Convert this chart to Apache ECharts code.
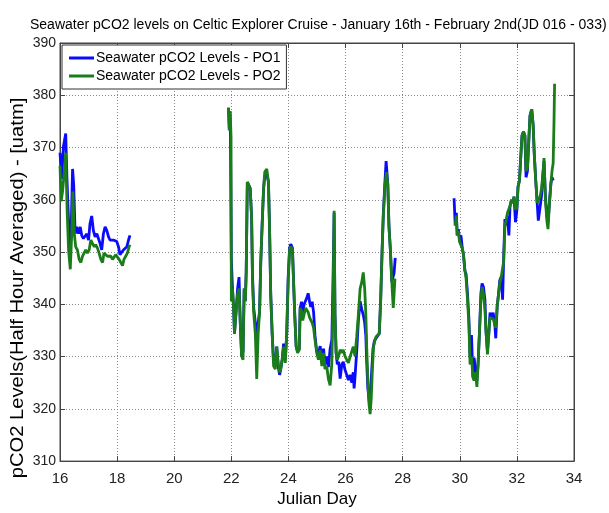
<!DOCTYPE html>
<html>
<head>
<meta charset="utf-8">
<script src="https://cdn.jsdelivr.net/npm/echarts@6/dist/echarts.min.js"></script>
<style>
html,body{margin:0;padding:0;background:#fff;}
#c{width:609px;height:513px;}
</style>
</head>
<body>
<div id="c"></div>
<script>
// ---- Data ----
var titleText = 'Seawater pCO2 levels on Celtic Explorer Cruise - January 16th - February 2nd(JD 016 - 033)';
var yAxisTitle = 'pCO2 Levels(Half Hour Averaged) - [uatm]';
var xAxisTitle = 'Julian Day';
var seriesNames = ['Seawater pCO2 Levels - PO1', 'Seawater pCO2 Levels - PO2'];
var xTicks = [16, 18, 20, 22, 24, 26, 28, 30, 32, 34];
var yTicks = [310, 320, 330, 340, 350, 360, 370, 380, 390];

var daysPO1 = [
16.00,16.06,16.12,16.20,16.24,16.30,16.36,16.39,16.44,16.48,16.53,16.59,16.65,16.71,16.76,16.82,16.88,16.94,17.00,17.05,17.11,17.17,17.23,17.29,17.35,17.40,17.46,17.52,17.58,17.64,17.70,17.75,17.81,17.87,17.93,17.99,18.05,18.10,18.16,18.22,18.28,18.34,18.40,18.45,
20.0,
21.90,21.93,21.95,21.97,22.00,22.04,22.08,22.11,22.16,22.22,22.27,22.31,22.36,22.41,22.45,22.49,22.52,22.56,22.61,22.66,22.71,22.74,22.78,22.84,22.89,22.94,22.99,23.03,23.08,23.13,23.17,23.24,23.30,23.34,23.38,23.43,23.48,23.54,23.59,23.64,23.69,23.73,23.78,23.83,23.89,23.94,23.99,24.04,24.08,24.14,24.18,24.22,24.27,24.32,24.38,24.41,24.46,24.50,24.55,24.60,24.64,24.69,24.74,24.78,24.83,24.88,24.93,24.99,25.05,25.11,25.17,25.23,25.28,25.34,25.40,25.46,25.52,25.56,25.60,25.63,25.67,25.71,25.76,25.81,25.87,25.92,25.98,26.04,26.10,26.16,26.22,26.27,26.30,26.33,26.39,26.45,26.51,26.57,26.62,26.67,26.71,26.74,26.78,26.83,26.87,26.92,26.96,27.01,27.07,27.13,27.18,27.23,27.28,27.32,27.38,27.42,27.48,27.52,27.57,27.62,27.67,27.70,27.74,
29.0,
29.80,29.84,29.88,29.91,29.95,29.99,30.04,30.09,30.13,30.18,30.22,30.27,30.32,30.36,30.41,30.46,30.50,30.55,30.60,30.64,30.69,30.74,30.78,30.83,30.88,30.92,30.97,31.02,31.06,31.11,31.17,31.23,31.26,31.31,31.36,31.40,31.45,31.50,31.54,31.58,31.62,31.67,31.72,31.76,31.81,31.86,31.90,31.95,32.00,32.04,32.09,32.14,32.18,32.23,32.28,32.32,32.37,32.42,32.46,32.52,32.57,32.61,32.66,32.71,32.75,32.81,32.86,32.92,32.95,33.00,33.05,33.09,33.14,33.19,33.23,33.27
];
var valsPO1 = [
369,364,370.2,372.7,364.6,356,350.4,354,365.9,362.8,353.5,354.8,353.5,354.8,353.2,352.6,352.3,353.5,352.3,355.4,356.9,354.1,352.9,353.5,353.2,351.7,350.4,353.5,354.8,354.1,352.9,352.3,352.6,352.3,352,352,351,349.5,349.2,350.4,350.1,351,352.3,353.2,
null,
377.6,373.3,376.5,372,348.6,343,339.3,334.4,338.1,343,345.2,336.9,330.1,331,343,340.6,346.1,363.4,362.8,362.2,356.6,345.8,339.5,336.5,333,336.5,338.7,348,355.4,362.2,364.5,365,363.4,354.1,341.8,334.4,329,328.2,331.9,328.2,326.5,327.6,329.4,332.5,329.5,334.4,345,350.8,351.5,350.8,344.3,338.1,331.9,331,331.5,339.3,340.5,338.5,340,339.8,341.2,342.1,340.5,339.5,340.5,338.5,334,331,330.5,332,329.5,331.5,328.5,330,328,331.5,333.2,344.3,357.5,338.1,330.7,328.5,329,325.8,328.5,329,327.5,326.5,325.5,326.5,325,327,323.9,326,331,337,340.6,339,338,336.5,334,329,324,321.4,323,327.6,331.5,333,333.5,333.5,334.4,341,350.4,357,363.5,367.4,363,355,350.4,344.3,344.3,346,348.9,
null,
360.3,355.1,357.5,353.2,354.4,352.6,353.2,350.7,349.5,346.4,345.8,342.1,337.2,329.8,334.1,326.1,329.8,329.8,325.4,328.5,334.7,342.1,344,343.3,340.9,334.7,331,334.7,338.4,337.2,338.4,335.9,333.5,339.6,342.1,344.6,345.2,340.9,349.5,356.3,355.1,356.9,353.2,358.8,360,359.4,360.6,355.7,358.1,362.5,363.7,368.6,372.3,373,372.3,364.3,365.5,371.7,376.1,377.3,374.2,368.6,363.7,359.4,356,356,360.6,365.5,367.4,360.6,356.9,355.7,359.4,363.1,364.3,363.7
];

var daysPO2 = [
16.00,16.04,16.09,16.16,16.20,16.25,16.30,16.36,16.41,16.45,16.50,16.55,16.61,16.67,16.73,16.79,16.85,16.90,16.96,17.02,17.08,17.14,17.20,17.25,17.31,17.37,17.43,17.49,17.54,17.60,17.66,17.72,17.78,17.84,17.90,17.95,18.01,18.07,18.13,18.19,18.24,18.30,18.36,18.42,18.45,
20.0,
21.90,21.93,21.96,21.99,22.00,22.04,22.08,22.11,22.16,22.22,22.27,22.31,22.36,22.41,22.45,22.49,22.52,22.56,22.61,22.66,22.71,22.74,22.78,22.84,22.89,22.94,22.99,23.03,23.08,23.13,23.17,23.24,23.30,23.34,23.38,23.43,23.48,23.54,23.59,23.64,23.69,23.73,23.78,23.83,23.89,23.94,23.99,24.04,24.08,24.14,24.18,24.22,24.27,24.32,24.38,24.41,24.46,24.50,24.55,24.60,24.64,24.69,24.74,24.78,24.83,24.88,24.93,24.99,25.05,25.11,25.17,25.23,25.28,25.34,25.40,25.46,25.52,25.56,25.60,25.63,25.67,25.71,25.76,25.81,25.87,25.92,25.98,26.04,26.10,26.16,26.22,26.27,26.33,26.39,26.45,26.51,26.57,26.62,26.67,26.71,26.74,26.78,26.82,26.86,26.90,26.94,26.98,27.03,27.07,27.13,27.18,27.23,27.28,27.32,27.38,27.43,27.48,27.52,27.57,27.62,27.67,27.70,27.73,
29.0,
29.84,29.88,29.91,29.95,29.99,30.04,30.09,30.13,30.18,30.22,30.27,30.32,30.36,30.41,30.46,30.50,30.55,30.60,30.64,30.69,30.74,30.78,30.83,30.88,30.92,30.97,31.02,31.06,31.11,31.17,31.23,31.26,31.31,31.36,31.40,31.45,31.50,31.54,31.58,31.62,31.67,31.72,31.76,31.81,31.86,31.90,31.95,32.00,32.04,32.09,32.14,32.18,32.23,32.28,32.32,32.37,32.42,32.46,32.52,32.57,32.61,32.66,32.71,32.75,32.81,32.86,32.92,32.95,33.00,33.05,33.09,33.14,33.19,33.23,33.27,33.30,33.32
];
var valsPO2 = [
366.5,359.7,361.6,365.9,369,357.9,350.4,346.7,353.5,361.6,353.5,351,350.4,348.6,348,349.2,349.5,350.4,349.8,350.4,352.3,352.6,351,351.4,350.8,349.8,348.6,348,349.8,350.1,349.2,348.9,349.2,348.6,348.9,349.5,349.2,348.6,348,347.4,348.6,349.2,349.8,351,351.4,
null,
377.6,373.3,377,372,340.6,343,339.3,334.4,338.1,342,343,336.9,330.1,329.4,343,340.6,346.1,363.4,362.8,362.2,356.6,344.9,338.7,334.4,325.7,334.4,338.7,348,355.4,362.2,365.3,365.9,363.4,354.1,341.8,334.4,328.2,327.6,331.9,328.8,327,327.6,329.4,331.9,328.8,334.4,344.3,350.4,351.1,350.4,344.3,338.1,331.9,330.7,331.3,339.3,338.7,336.9,338.1,339.3,339,338.5,337.5,337,336.5,335.5,333.2,330.7,329.4,331.3,328.2,330.7,327.6,328.2,325.7,324.5,328.8,340,357.9,338.1,330.7,329.4,330.1,331.3,330.7,331.3,330.1,329.4,328.8,330,330.1,331.9,330.1,333.8,338.1,343,344.3,346.1,343,338.1,331.9,325.7,321,319,322,327.6,331.9,333.2,333.8,333.8,334.4,340.6,350.4,356.6,362.8,365.3,362.8,354.8,350.4,344.3,339.3,342,344.9,
null,
355.1,357,353.2,354,352,352,350.7,349.5,346.4,345,341,336,328.5,330,326,325.4,327,324.2,328.5,334.7,340.9,343.3,342,339,334.7,330.4,334.7,337.5,337.2,337.2,337,335.5,339.6,342.1,344,345.2,345,348.3,355,356,357.5,357.5,358.8,360,359.4,360.6,358.1,358.5,362.5,363.7,368.6,372.3,373,372.3,365.5,366,371.7,376.1,377.3,374.2,368.6,363.7,359.4,359.4,360.6,362,365.5,368,360,356,354.4,359.4,363.1,365.5,367,375,382.2
];

function pairs(days, vals) {
  return days.map(function (d, i) { return [d, vals[i] === null ? '-' : vals[i]]; });
}

var FONT = 'Liberation Sans, Arial, sans-serif';
var chart = echarts.init(document.getElementById('c'), null, { renderer: 'canvas' });

var gridLine = { show: true, lineStyle: { color: '#8a8a8a', type: [1, 2], width: 1 } };

chart.setOption({
  animation: false,
  backgroundColor: '#ffffff',
  title: {
    text: titleText,
    left: 25,
    top: 13,
    textStyle: { fontFamily: FONT, fontSize: 14, fontWeight: 'normal', color: '#000' }
  },
  graphic: [{
    type: 'text',
    x: 18, y: 288,
    rotation: Math.PI / 2,
    scaleX: 1.12,
    style: {
      text: yAxisTitle,
      fontFamily: FONT, fontSize: 18, fill: '#000',
      align: 'center', verticalAlign: 'middle'
    }
  }],
  legend: {
    left: 62,
    top: 45,
    orient: 'vertical',
    backgroundColor: '#fff',
    borderColor: '#333',
    borderWidth: 1,
    borderRadius: 0,
    padding: [6, 6, 6, 7],
    itemGap: 4,
    itemWidth: 25,
    itemHeight: 3,
    icon: 'rect',
    textStyle: { fontFamily: FONT, fontSize: 14, color: '#000', padding: [0, 0, 0, -3] },
    data: seriesNames
  },
  grid: {
    left: 60, right: 35, top: 43, bottom: 38,
    show: true, borderColor: '#444', borderWidth: 1, backgroundColor: '#fff'
  },
  xAxis: [{
    type: 'value',
    min: xTicks[0], max: xTicks[xTicks.length - 1], interval: 2,
    name: xAxisTitle,
    nameLocation: 'middle',
    nameGap: 24,
    nameTextStyle: { fontFamily: FONT, fontSize: 17, color: '#000' },
    axisLine: { show: true, lineStyle: { color: '#444' } },
    axisTick: { show: true, inside: true, length: 5, lineStyle: { color: '#444' } },
    axisLabel: { fontFamily: FONT, fontSize: 15, color: '#222', margin: 10 },
    splitLine: gridLine
  }, {
    type: 'value', position: 'top',
    min: xTicks[0], max: xTicks[xTicks.length - 1], interval: 2,
    axisLine: { show: true, lineStyle: { color: '#444' } },
    axisTick: { show: true, inside: true, length: 5, lineStyle: { color: '#444' } },
    axisLabel: { show: false },
    splitLine: { show: false }
  }],
  yAxis: [{
    type: 'value',
    min: yTicks[0], max: yTicks[yTicks.length - 1], interval: 10,
    axisLine: { show: true, lineStyle: { color: '#444' } },
    axisTick: { show: true, inside: true, length: 5, lineStyle: { color: '#444' } },
    axisLabel: { fontFamily: FONT, fontSize: 14, color: '#222', margin: 4 },
    splitLine: gridLine
  }, {
    type: 'value', position: 'right',
    min: yTicks[0], max: yTicks[yTicks.length - 1], interval: 10,
    axisLine: { show: true, lineStyle: { color: '#444' } },
    axisTick: { show: true, inside: true, length: 5, lineStyle: { color: '#444' } },
    axisLabel: { show: false },
    splitLine: { show: false }
  }],
  series: [{
    name: seriesNames[0],
    type: 'line',
    data: pairs(daysPO1, valsPO1),
    showSymbol: false,
    symbol: 'none',
    connectNulls: false,
    lineStyle: { color: '#0a0aff', width: 2.8 },
    itemStyle: { color: '#0a0aff' },
    z: 2
  }, {
    name: seriesNames[1],
    type: 'line',
    data: pairs(daysPO2, valsPO2),
    showSymbol: false,
    symbol: 'none',
    connectNulls: false,
    lineStyle: { color: '#1a7d1a', width: 2.8 },
    itemStyle: { color: '#1a7d1a' },
    z: 3
  }]
});
</script>
</body>
</html>
